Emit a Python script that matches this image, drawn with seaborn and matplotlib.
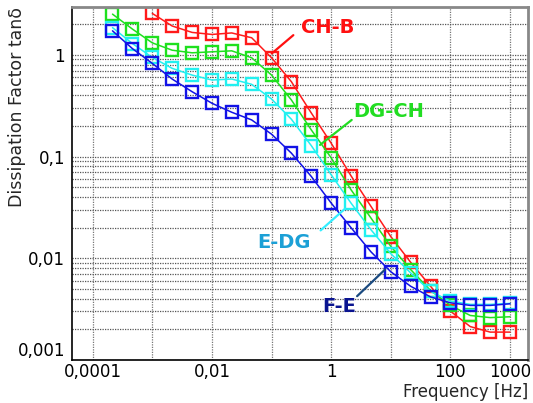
import numpy as np
import pandas as pd
import matplotlib
matplotlib.use("Agg")
import matplotlib.pyplot as plt
import seaborn as sns
from matplotlib.ticker import FixedLocator

# ---------------- data ----------------
freq = [0.000215, 0.000464, 0.001, 0.00215, 0.00464, 0.01, 0.0215, 0.0464,
        0.1, 0.215, 0.464, 1, 2.15, 4.64, 10, 21.5, 46.4, 100, 215, 464, 1000]

ch_b = [2.55, 1.92, 1.66, 1.585, 1.64, 1.47, 0.935, 0.544, 0.268, 0.1353,
        0.0647, 0.0324, 0.01633, 0.00914, 0.00531, 0.00302, 0.00213, 0.00188, 0.00188]
dg_ch = [2.51, 1.79, 1.31, 1.11, 1.046, 1.07, 1.094, 0.935, 0.632, 0.360, 0.1827,
         0.0971, 0.0472, 0.0249, 0.0131, 0.00775, 0.00482, 0.00344, 0.00274, 0.00261, 0.00266]
e_dg = [1.85, 1.29, 0.943, 0.736, 0.632, 0.565, 0.578, 0.5125, 0.368, 0.2327, 0.128,
        0.0662, 0.0349, 0.0191, 0.0111, 0.00719, 0.00472, 0.00379, 0.00352, 0.00352, 0.0036]
f_e = [1.72, 1.15, 0.823, 0.578, 0.434, 0.334, 0.2724, 0.229, 0.1658, 0.108, 0.0637,
       0.0349, 0.0200, 0.01158, 0.00737, 0.00531, 0.00417, 0.00365, 0.00344, 0.00344, 0.00357]

series_names = ["CH-B", "DG-CH", "E-DG", "F-E"]
series_vals = [ch_b, dg_ch, e_dg, f_e]
series_colors = ["#ff1a1a", "#1ee01e", "#22f0f0", "#1212e6"]
label_colors = ["#ff1010", "#22dd22", "#1ca0d6", "#0a1490"]
leader_colors = ["#ff1010", "#22dd22", "#33eeff", "#1a4a80"]

xtick_vals = [1e-4, 1e-2, 1, 100, 1000]
xtick_labels = ["0,0001", "0,01", "1", "100", "1000"]
ytick_vals = [0.001, 0.01, 0.1, 1]
ytick_labels = ["0,001", "0,01", "0,1", "1"]
xgrid_vals = [1e-4, 1e-3, 1e-2, 1e-1, 1, 10, 100, 1000]

# annotation placement (data coords): text, leader start, leader end
label_text_pos = [(0.87, 1.85), (9.1, 0.274), (0.162, 0.01442), (1.355, 0.00332)]
leader_start = [(0.232, 1.56), (2.21, 0.229), (0.665, 0.0188), (2.72, 0.00424)]
leader_end = [(0.1007, 1.03), (0.65, 0.130), (1.708, 0.0307), (8.01, 0.00775)]

# ---------------- figure ----------------
sns.set_style("white")
plt.rcParams["font.family"] = ["DejaVu Sans"]

fig = plt.figure(figsize=(5.33, 4.03), dpi=100)
ax = fig.add_axes([72 / 533, 1 - 360 / 403, (528 - 72) / 533, (360 - 7) / 403])

for name, vals, col in zip(series_names, series_vals, series_colors):
    x = freq[len(freq) - len(vals):]
    df = pd.DataFrame({"Frequency": x, "tan": vals})
    sns.lineplot(data=df, x="Frequency", y="tan", ax=ax, color=col, lw=1.1,
                 marker="s", markersize=8.3, markerfacecolor="none",
                 markeredgecolor=col, markeredgewidth=1.7)

ax.set_xscale("log")
ax.set_yscale("log")
ax.set_xlim(4.5e-5, 2000)
ax.set_ylim(0.001, 2.95)

# grid
ax.grid(False)
for xv in xgrid_vals:
    ax.axvline(xv, color="#777777", lw=0.9, ls=(0, (1, 1)), zorder=0)
for dec in [0.001, 0.01, 0.1, 1]:
    for m in range(1, 10):
        yv = dec * m
        if yv < 2.95:
            ax.axhline(yv, color="#555555", lw=0.9, ls=(0, (1, 1)), zorder=0)

ax.set_xticks(xtick_vals)
ax.set_xticklabels(xtick_labels)
ax.xaxis.set_minor_locator(FixedLocator([]))
ax.set_yticks(ytick_vals)
ax.set_yticklabels(ytick_labels)
ax.yaxis.set_minor_locator(FixedLocator([]))
ax.tick_params(axis="both", which="both", length=0, labelsize=12, colors="black")
ax.tick_params(axis="x", pad=2)
ax.tick_params(axis="y", pad=5)
# bottom y tick label sits above axis line
ax.get_yticklabels()[0].set_verticalalignment("bottom")

for s in ["left", "bottom"]:
    ax.spines[s].set_color("black")
    ax.spines[s].set_linewidth(1.2)
for s in ["top", "right"]:
    ax.spines[s].set_color("#888888")
    ax.spines[s].set_linewidth(2.0)

ax.set_xlabel("Frequency [Hz]", fontsize=12, loc="right")
ax.xaxis.set_label_coords(1.0, -0.064)
ax.set_ylabel("Dissipation Factor tanδ", fontsize=12.5, loc="top")
ax.yaxis.set_label_coords(-0.100, 1.0)

for name, tp, ls_, le, tc, lc in zip(series_names, label_text_pos, leader_start,
                                     leader_end, label_colors, leader_colors):
    ax.annotate("", xy=le, xytext=ls_, textcoords="data",
                arrowprops=dict(arrowstyle="-", color=lc, lw=1.6,
                                shrinkA=0, shrinkB=0))
    ax.text(tp[0], tp[1], name, color=tc, fontsize=14, fontweight="bold",
            ha="center", va="center")

fig.savefig("out.png", dpi=100)
